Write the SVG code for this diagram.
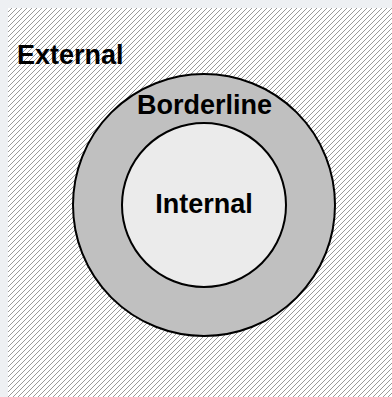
<svg xmlns="http://www.w3.org/2000/svg" width="392" height="397" viewBox="0 0 392 397">
  <defs>
    <pattern id="hatch" patternUnits="userSpaceOnUse" width="5" height="5">
      <rect width="5" height="5" fill="#ffffff"/>
      <path d="M-1,1 L1,-1 M0,5 L5,0 M4,6 L6,4" stroke="#9a9a9a" stroke-width="1"/>
    </pattern>
    <style>
      .lbl { font-family: "Liberation Sans", Arial, sans-serif; font-weight: bold; font-size: 27px; fill: #000; }
      .ring { stroke: #000; stroke-width: 2; }
    </style>
  </defs>
  <rect x="0" y="0" width="392" height="397" fill="#eef0f3"/>
  <g id="external">
    <rect x="8" y="8" width="384" height="389" fill="url(#hatch)"/>
    <text class="lbl" x="17" y="64">External</text>
  </g>
  <g id="borderline">
    <circle class="ring" cx="204" cy="205" r="131" fill="#c0c0c0"/>
    <text class="lbl" x="204.5" y="114" text-anchor="middle">Borderline</text>
  </g>
  <g id="internal">
    <circle class="ring" cx="204" cy="205" r="82" fill="#ebebeb"/>
    <text class="lbl" x="204" y="213" text-anchor="middle">Internal</text>
  </g>
  <g id="connectors"/>
</svg>
